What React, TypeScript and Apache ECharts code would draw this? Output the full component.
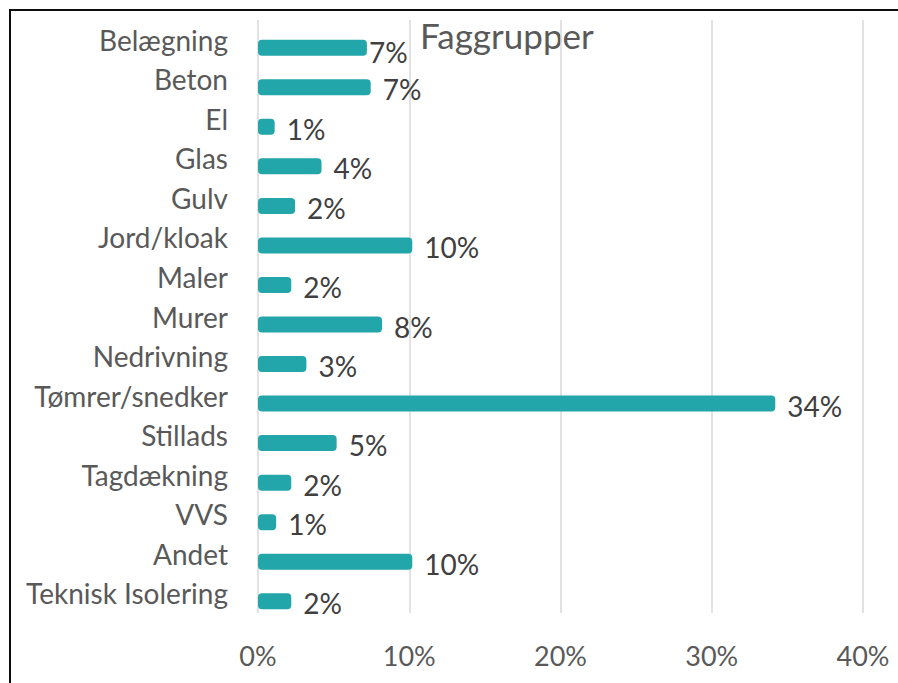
import React, { useEffect, useRef } from "react";
import * as echarts from "echarts";

const categories = [
  "Belægning",
  "Beton",
  "El",
  "Glas",
  "Gulv",
  "Jord/kloak",
  "Maler",
  "Murer",
  "Nedrivning",
  "Tømrer/snedker",
  "Stillads",
  "Tagdækning",
  "VVS",
  "Andet",
  "Teknisk Isolering",
];
const values = [7.2, 7.45, 1.1, 4.2, 2.45, 10.2, 2.2, 8.2, 3.2, 34.2, 5.2, 2.2, 1.2, 10.2, 2.2];
const axisTicks = [0, 10, 20, 30, 40];
const title = "Faggrupper";

const FONT = "Lato";

export default function App() {
  const ref = useRef<HTMLDivElement>(null);
  useEffect(() => {
    if (!ref.current) return;
    const chart = echarts.init(ref.current, null, { renderer: "svg" });
    const grid0 = { left: 258, right: 35, top: 20, bottom: 70 };
    const grid1 = { left: 258, right: 35, top: 28, bottom: 62 };
    chart.setOption({
      animation: false,
      backgroundColor: "#ffffff",
      textStyle: { fontFamily: FONT },
      grid: [grid0, grid1],
      xAxis: [
        {
          type: "value",
          gridIndex: 0,
          min: axisTicks[0],
          max: axisTicks[axisTicks.length - 1],
          interval: axisTicks[1] - axisTicks[0],
          axisLine: { show: false },
          axisTick: { show: false },
          splitLine: { show: true, lineStyle: { color: "#d9d9d9", width: 1.5 } },
          axisLabel: {
            formatter: "{value}%",
            color: "#595959",
            fontSize: 27,
            fontFamily: FONT,
            margin: 29,
          },
        },
        {
          type: "value",
          gridIndex: 1,
          min: axisTicks[0],
          max: axisTicks[axisTicks.length - 1],
          show: false,
        },
      ],
      yAxis: [
        {
          type: "category",
          gridIndex: 0,
          data: categories,
          inverse: true,
          axisLine: { show: false },
          axisTick: { show: false },
          splitLine: { show: false },
          axisLabel: {
            color: "#595959",
            fontSize: 28,
            fontFamily: FONT,
            margin: 30,
            interval: 0,
          },
        },
        {
          type: "category",
          gridIndex: 1,
          data: categories,
          inverse: true,
          show: false,
        },
      ],
      series: [
        {
          type: "bar",
          xAxisIndex: 1,
          yAxisIndex: 1,
          barWidth: 16,
          data: values.map((v, i) =>
            i === 0
              ? { value: v, label: { distance: 2, offset: [0, 4] } }
              : v
          ),
          itemStyle: { color: "#22a6a9", borderRadius: 4 },
          label: {
            show: true,
            position: "right",
            distance: 12,
            offset: [0, 2],
            color: "#404040",
            fontSize: 28,
            fontFamily: FONT,
            formatter: (p: any) => Math.round(p.value) + "%",
          },
        },
      ],
      graphic: [
        {
          type: "text",
          left: 420,
          top: 17,
          style: {
            text: title,
            fontSize: 35,
            fontFamily: FONT,
            fill: "#595959",
          },
        },
        {
          type: "line",
          shape: { x1: 9, y1: 10, x2: 898, y2: 10 },
          style: { stroke: "#0d0d0d", lineWidth: 2 },
        },
        {
          type: "line",
          shape: { x1: 10, y1: 9, x2: 10, y2: 683 },
          style: { stroke: "#0d0d0d", lineWidth: 2 },
        },
      ],
    });
    return () => chart.dispose();
  }, []);
  return (
    <div
      ref={ref}
      style={{ position: "fixed", left: 0, top: 0, width: 898, height: 683 }}
    />
  );
}
